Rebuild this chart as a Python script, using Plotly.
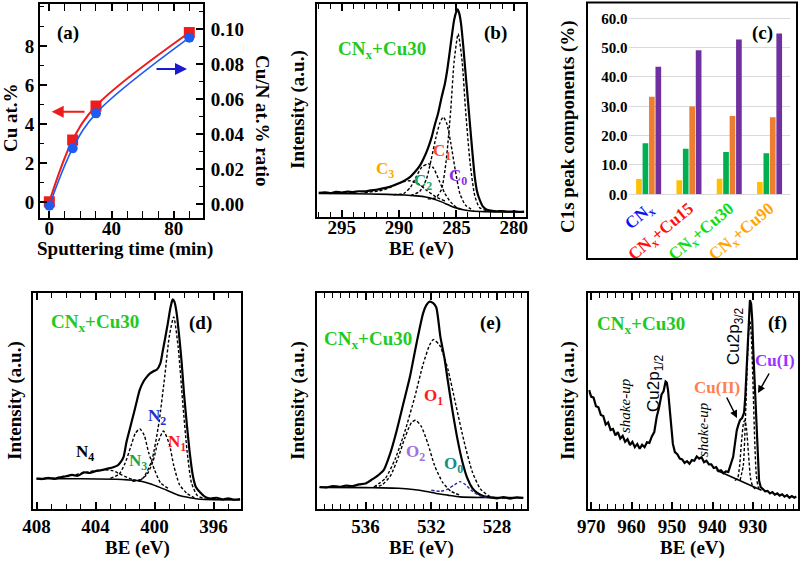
import plotly.graph_objects as go

W, H = 800, 561
def px(x): return x / W
def py(y): return 1 - y / H

# ---------------- (a) Cu content vs sputtering time ----------------
sput_time = [0, 15, 30, 90]
cu_at = [0.03, 3.19, 4.93, 8.69]
cu_n_ratio = [-0.001, 0.0319, 0.0519, 0.0952]
cu_n_err = [0.002, 0.002, 0.002, 0.002]

# ---------------- (c) C1s components ----------------
samples = ["CNx", "CNx+Cu15", "CNx+Cu30", "CNx+Cu90"]
sample_colors = ["#1010ee", "#ff1010", "#10dd10", "#ffa500"]
c3_pct = [5.2, 4.8, 5.3, 4.2]
c2_pct = [17.4, 15.5, 14.4, 14.0]
c1_pct = [33.3, 29.9, 26.7, 26.3]
c0_pct = [43.5, 49.1, 52.8, 54.8]

# ---------------- (b) C1s spectrum ----------------
b_be = [297.0, 296.5, 296.0, 295.5, 295.0, 294.5, 294.0, 293.5, 293.0, 292.5, 292.0, 291.5, 291.0, 290.5,
        290.0, 289.5, 289.0, 288.6, 288.2, 287.9, 287.5, 287.15, 286.9, 286.6, 286.3, 286.0, 285.8, 285.6,
        285.4, 285.2, 285.0, 284.9, 284.75, 284.6, 284.4, 284.25, 284.0, 283.8, 283.6, 283.4, 283.2, 282.95,
        282.7, 282.35, 282.0, 281.5, 281.0, 280.5, 280.0, 279.5, 279.1]
b_int = [0.113, 0.116, 0.112, 0.118, 0.115, 0.119, 0.117, 0.121, 0.12, 0.125, 0.128, 0.133, 0.139, 0.148,
         0.158, 0.172, 0.19, 0.212, 0.24, 0.27, 0.32, 0.376, 0.43, 0.486, 0.56, 0.627, 0.69, 0.768,
         0.85, 0.925, 0.965, 0.975, 0.955, 0.909, 0.80, 0.705, 0.55, 0.423, 0.30, 0.188, 0.12, 0.078,
         0.05, 0.034, 0.03, 0.027, 0.028, 0.025, 0.026, 0.024, 0.025]
b_bg_be = [297.0, 294.0, 291.0, 289.5, 288.5, 287.7, 287.0, 286.3, 285.7, 285.1, 284.4, 283.7, 282.5, 279.1]
b_bg = [0.11, 0.109, 0.106, 0.103, 0.099, 0.094, 0.085, 0.071, 0.057, 0.044, 0.034, 0.028, 0.025, 0.024]
b_c0_be = [287.5, 286.8, 286.3, 285.9, 285.5, 285.2, 284.85, 284.5, 284.2, 283.8, 283.4, 283.0, 282.4, 281.5]
b_c0 = [0.085, 0.09, 0.13, 0.26, 0.50, 0.73, 0.86, 0.73, 0.50, 0.25, 0.10, 0.045, 0.03, 0.026]
b_c1_be = [289.0, 288.2, 287.6, 287.2, 286.8, 286.45, 286.15, 285.85, 285.5, 285.1, 284.7, 284.2, 283.5]
b_c1 = [0.10, 0.12, 0.18, 0.27, 0.37, 0.44, 0.47, 0.44, 0.35, 0.22, 0.11, 0.055, 0.03]
b_c2_be = [290.5, 289.6, 289.0, 288.5, 288.0, 287.45, 287.0, 286.5, 286.0, 285.5, 285.0]
b_c2 = [0.105, 0.11, 0.14, 0.19, 0.235, 0.25, 0.23, 0.17, 0.11, 0.07, 0.045]
b_c3_be = [293.0, 291.5, 290.5, 289.7, 289.0, 288.3, 287.6, 286.8, 286.0]
b_c3 = [0.115, 0.125, 0.145, 0.165, 0.17, 0.155, 0.125, 0.095, 0.075]

# ---------------- (d) N1s spectrum ----------------
d_be = [408.0, 407.6, 407.2, 406.8, 406.4, 406.0, 405.6, 405.2, 404.8, 404.4, 404.0, 403.6, 403.2, 402.8,
        402.5, 402.3, 402.1, 401.9, 401.6, 401.4, 401.2, 401.0, 400.75, 400.5, 400.3, 400.1, 399.85, 399.6,
        399.45, 399.3, 399.1, 398.95, 398.85, 398.77, 398.65, 398.5, 398.3, 398.16, 398.0, 397.8, 397.6,
        397.4, 397.2, 396.9, 396.6, 396.2, 395.8, 395.4, 395.0, 394.6, 394.2]
d_int = [0.139, 0.137, 0.143, 0.138, 0.145, 0.15, 0.156, 0.152, 0.168, 0.165, 0.174, 0.178, 0.185, 0.192,
         0.20, 0.215, 0.24, 0.31, 0.39, 0.444, 0.50, 0.552, 0.59, 0.614, 0.628, 0.637, 0.645, 0.676,
         0.73, 0.784, 0.86, 0.923, 0.955, 0.972, 0.96, 0.907, 0.78, 0.676, 0.53, 0.383, 0.25,
         0.151, 0.10, 0.074, 0.055, 0.046, 0.05, 0.042, 0.047, 0.041, 0.044]
d_bg_be = [408.0, 405.0, 402.6, 401.8, 401.0, 400.3, 399.6, 398.9, 398.3, 397.6, 396.9, 396.0, 394.2]
d_bg = [0.139, 0.138, 0.136, 0.133, 0.128, 0.115, 0.097, 0.077, 0.06, 0.05, 0.043, 0.041, 0.04]
d_n1_be = [401.5, 400.8, 400.2, 399.7, 399.3, 399.0, 398.7, 398.4, 398.1, 397.8, 397.5, 397.1, 396.6, 396.0]
d_n1 = [0.125, 0.14, 0.22, 0.40, 0.62, 0.80, 0.89, 0.75, 0.50, 0.27, 0.12, 0.06, 0.045, 0.042]
d_n2_be = [401.0, 400.5, 400.1, 399.8, 399.4, 399.0, 398.7, 398.3, 397.8, 397.3]
d_n2 = [0.13, 0.16, 0.22, 0.30, 0.36, 0.30, 0.20, 0.11, 0.07, 0.05]
d_n3_be = [403.0, 402.4, 402.0, 401.6, 401.3, 401.0, 400.7, 400.4, 400.0, 399.6, 399.0]
d_n3 = [0.14, 0.16, 0.21, 0.29, 0.35, 0.37, 0.34, 0.26, 0.18, 0.12, 0.09]
d_n4_be = [407.0, 405.5, 404.5, 403.5, 402.8, 402.2, 401.5, 400.8]
d_n4 = [0.14, 0.155, 0.17, 0.18, 0.175, 0.155, 0.135, 0.125]

# ---------------- (e) O1s spectrum ----------------
e_be = [538.8, 538.4, 538.0, 537.6, 537.2, 536.8, 536.4, 536.0, 535.6, 535.3, 534.9, 534.5, 534.1, 533.7,
        533.3, 532.9, 532.5, 532.3, 532.1, 531.9, 531.7, 531.45, 531.2, 531.0, 530.7, 530.4, 530.1, 529.8,
        529.5, 529.2, 528.8, 528.4, 528.0, 527.6, 527.2, 526.8, 526.4]
e_int = [0.10, 0.098, 0.104, 0.101, 0.106, 0.104, 0.112, 0.116, 0.135, 0.15, 0.178, 0.256, 0.364, 0.488,
         0.612, 0.767, 0.907, 0.945, 0.961, 0.955, 0.935, 0.80, 0.70, 0.597, 0.45, 0.32, 0.215, 0.14,
         0.095, 0.072, 0.057, 0.052, 0.047, 0.053, 0.046, 0.052, 0.049]
e_bg_be = [538.8, 536.0, 535.0, 534.0, 533.1, 532.3, 531.7, 531.0, 530.25, 529.0, 526.4]
e_bg = [0.098, 0.097, 0.096, 0.094, 0.088, 0.079, 0.07, 0.062, 0.054, 0.051, 0.05]
e_o1_be = [535.5, 534.8, 534.2, 533.6, 533.0, 532.5, 532.1, 531.88, 531.5, 531.0, 530.5, 530.0, 529.5, 529.0, 528.4, 527.5]
e_o1 = [0.10, 0.14, 0.23, 0.36, 0.52, 0.67, 0.76, 0.785, 0.76, 0.65, 0.48, 0.31, 0.17, 0.09, 0.055, 0.048]
e_o2_be = [535.5, 535.0, 534.5, 534.0, 533.6, 533.2, 532.95, 532.6, 532.2, 531.8, 531.3, 530.8, 530.2]
e_o2 = [0.098, 0.11, 0.15, 0.24, 0.33, 0.40, 0.41, 0.38, 0.30, 0.20, 0.12, 0.08, 0.06]
e_o0_be = [532.0, 531.4, 531.0, 530.6, 530.25, 529.9, 529.5, 529.0, 528.5]
e_o0 = [0.085, 0.08, 0.09, 0.11, 0.125, 0.11, 0.08, 0.058, 0.05]

# ---------------- (f) Cu2p spectrum ----------------
f_be = [970.5, 970.0, 969.4, 968.8, 968.2, 967.6, 967.0, 966.4, 965.8, 965.2, 964.6, 964.0, 963.4, 962.8,
        962.2, 961.6, 961.0, 960.4, 959.8, 959.2, 958.6, 958.0, 957.4, 956.8, 956.2, 955.6, 955.0, 954.4,
        953.8, 953.2, 952.6, 952.1, 951.6, 951.3, 951.0, 950.6, 950.2, 949.8, 949.3, 948.7, 948.1, 947.5,
        946.9, 946.3, 945.7, 945.1, 944.5, 943.9, 943.3, 942.7, 942.1, 941.5, 940.9, 940.3, 939.7, 939.1,
        938.5, 937.9, 937.3, 936.7, 936.1, 935.5, 934.9, 934.4, 934.0, 933.6, 933.2, 932.7, 932.2, 931.9,
        931.6, 931.3, 931.0, 930.75, 930.45, 930.2, 929.9, 929.5, 929.2, 928.85, 928.5, 928.1, 927.6, 927.0,
        926.4, 925.8, 925.2, 924.6, 924.0, 923.4, 922.8, 922.2, 921.6, 921.0, 920.4, 919.8, 919.3]
f_int = [0.55, 0.52, 0.515, 0.475, 0.47, 0.435, 0.43, 0.39, 0.40, 0.365, 0.37, 0.34, 0.355, 0.325,
         0.338, 0.31, 0.322, 0.295, 0.31, 0.285, 0.30, 0.278, 0.296, 0.285, 0.308, 0.305, 0.335, 0.355,
         0.425, 0.47, 0.53, 0.545, 0.59, 0.585, 0.55, 0.47, 0.37, 0.30, 0.262, 0.252, 0.232, 0.228,
         0.212, 0.22, 0.208, 0.225, 0.222, 0.242, 0.232, 0.238, 0.215, 0.222, 0.205, 0.205, 0.188, 0.192,
         0.174, 0.178, 0.164, 0.172, 0.17, 0.2, 0.24, 0.31, 0.364, 0.39, 0.411, 0.42, 0.445, 0.52,
         0.64, 0.78, 0.92, 0.969, 0.95, 0.88, 0.72, 0.55, 0.36, 0.21, 0.13, 0.10, 0.09, 0.08,
         0.082, 0.07, 0.076, 0.064, 0.07, 0.06, 0.066, 0.055, 0.062, 0.05, 0.058, 0.05, 0.056]
f_bg_be = [939.0, 927.9]
f_bg = [0.178, 0.085]
f_cu1_be = [933.2, 932.4, 931.9, 931.4, 931.0, 930.75, 930.4, 930.0, 929.6, 929.2, 928.7, 928.2]
f_cu1 = [0.13, 0.20, 0.40, 0.68, 0.84, 0.87, 0.80, 0.58, 0.33, 0.16, 0.10, 0.088]
f_cu2_be = [934.5, 933.8, 933.3, 932.8, 932.3, 932.0, 931.6, 931.1, 930.6, 930.0, 929.3]
f_cu2 = [0.13, 0.14, 0.20, 0.32, 0.40, 0.41, 0.37, 0.25, 0.14, 0.10, 0.09]

SERIF = "Liberation Serif"
SANS = "Liberation Sans"
DASH = "3px,2px"

fig = go.Figure()

def line(x, y, xa, ya, width=2, dash=None, color="black", shape="spline"):
    fig.add_trace(go.Scatter(x=x, y=y, xaxis=xa, yaxis=ya, mode="lines",
                             line=dict(color=color, width=width, dash=dash, shape=shape, smoothing=0.6),
                             hoverinfo="skip"))

# (a)
fig.add_trace(go.Scatter(x=sput_time, y=cu_at, xaxis="x", yaxis="y", mode="lines+markers",
                         line=dict(color="#ee1c1c", width=2, shape="spline", smoothing=1.0),
                         marker=dict(symbol="square", size=11, color="#ee1c1c")))
fig.add_trace(go.Scatter(x=sput_time, y=cu_n_ratio, xaxis="x", yaxis="y2", mode="lines+markers",
                         line=dict(color="#1e5cf0", width=1.6, shape="spline", smoothing=1.0),
                         marker=dict(symbol="circle", size=10, color="#1e5cf0"),
                         error_y=dict(type="data", array=cu_n_err, color="#1e5cf0", thickness=1.5, width=3)))

# (b)
line(b_be, b_int, "x2", "y3", width=2.2)
line(b_bg_be, b_bg, "x2", "y3", width=1.6)
for xs, ys in [(b_c0_be, b_c0), (b_c1_be, b_c1), (b_c2_be, b_c2), (b_c3_be, b_c3)]:
    line(xs, ys, "x2", "y3", width=1.4, dash=DASH)

# (c)
for vals, col in [(c3_pct, "#FFC000"), (c2_pct, "#00B050"), (c1_pct, "#ED7D31"), (c0_pct, "#7030A0")]:
    fig.add_trace(go.Bar(x=samples, y=vals, xaxis="x3", yaxis="y4", marker=dict(color=col, line=dict(width=0))))

# (d)
line(d_be, d_int, "x4", "y5", width=2.2)
line(d_bg_be, d_bg, "x4", "y5", width=1.6)
for xs, ys in [(d_n1_be, d_n1), (d_n2_be, d_n2), (d_n3_be, d_n3), (d_n4_be, d_n4)]:
    line(xs, ys, "x4", "y5", width=1.4, dash=DASH)

# (e)
line(e_be, e_int, "x5", "y6", width=2.2)
line(e_bg_be, e_bg, "x5", "y6", width=1.6)
line(e_o1_be, e_o1, "x5", "y6", width=1.4, dash=DASH)
line(e_o2_be, e_o2, "x5", "y6", width=1.4, dash=DASH)
line(e_o0_be, e_o0, "x5", "y6", width=1.4, dash=DASH, color="#2b2b8f")

# (f)
line(f_be, f_int, "x6", "y7", width=2.2, shape="linear")
line(f_bg_be, f_bg, "x6", "y7", width=1.6, shape="linear")
line(f_cu1_be, f_cu1, "x6", "y7", width=1.4, dash=DASH)
line(f_cu2_be, f_cu2, "x6", "y7", width=1.4, dash=DASH)

tickfont = dict(family=SERIF, size=19, color="black")

def bold_ticks(vals, fmt="{:g}"):
    return dict(tickmode="array", tickvals=vals, ticktext=["<b>" + fmt.format(v) + "</b>" for v in vals])

def spec_x(dom, rng, vals, minor_dtick, tick0, anchor, standoff):
    d = dict(domain=[px(dom[0]), px(dom[1])], range=rng, anchor=anchor, automargin=False,
             ticks="inside", ticklen=7, tickwidth=1.5, tickcolor="black",
             minor=dict(ticks="inside", ticklen=5, tickwidth=1.3, dtick=minor_dtick, tick0=tick0, tickcolor="black"),
             showline=True, linewidth=2, linecolor="black", mirror="allticks",
             showgrid=False, zeroline=False, tickfont=tickfont, ticklabelstandoff=standoff)
    d.update(bold_ticks(vals))
    return d

def spec_y(dom, anchor):
    return dict(domain=[py(dom[0]), py(dom[1])], range=[0, 1], anchor=anchor, automargin=False,
                showticklabels=False, ticks="", showline=True, linewidth=2, linecolor="black",
                mirror=True, showgrid=False, zeroline=False)

xa = dict(domain=[px(40), px(203)], range=[-6, 98.8], anchor="y", automargin=False,
          ticks="inside", ticklen=7, tickwidth=1.5, tickcolor="black",
          minor=dict(ticks="inside", ticklen=4, dtick=10, tick0=0, tickwidth=1.2, tickcolor="black"),
          showline=True, linewidth=2, linecolor="black", mirror="allticks",
          showgrid=False, zeroline=False, tickfont=tickfont, ticklabelstandoff=-8)
xa.update(bold_ticks([0, 40, 80]))
ya = dict(domain=[py(218), py(4)], range=[-0.8, 10.15], anchor="x", automargin=False,
          ticks="inside", ticklen=7, tickwidth=1.5, tickcolor="black",
          minor=dict(ticks="inside", ticklen=4, dtick=1, tick0=0, tickwidth=1.2, tickcolor="black"),
          showline=True, linewidth=2, linecolor="black", mirror=True,
          showgrid=False, zeroline=False, tickfont=tickfont)
ya.update(bold_ticks([0, 2, 4, 6, 8]))
ya2 = dict(range=[-0.008, 0.1145], overlaying="y", side="right", anchor="x", automargin=False,
           ticks="inside", ticklen=7, tickwidth=1.5, tickcolor="black",
           minor=dict(ticks="inside", ticklen=4, dtick=0.01, tick0=0, tickwidth=1.2, tickcolor="black"),
           showline=True, linewidth=2, linecolor="black",
           showgrid=False, zeroline=False, tickfont=tickfont, ticklabelstandoff=2)
ya2.update(bold_ticks([0, 0.02, 0.04, 0.06, 0.08, 0.10], "{:.2f}"))
yc = dict(domain=[py(194.3), py(12.45)], range=[0, 62], anchor="x3", automargin=False,
          showline=False, ticks="", showgrid=True, gridcolor="#d9d9d9", gridwidth=1,
          zeroline=True, zerolinecolor="#d9d9d9", zerolinewidth=1,
          tickfont=dict(family=SERIF, size=15, color="black"))
yc.update(bold_ticks([0, 10, 20, 30, 40, 50, 60], "{:.1f}"))

layout = dict(
    template="none",
    width=W, height=H, margin=dict(l=0, r=0, t=0, b=0, pad=0, autoexpand=False),
    paper_bgcolor="white", plot_bgcolor="white", showlegend=False,
    font=dict(family=SERIF, color="black"),
    barmode="group", bargap=0.36, bargroupgap=0.12,
    xaxis=xa, yaxis=ya, yaxis2=ya2,
    xaxis2=spec_x((316.7, 525.7), [297.18, 278.96], [280, 285, 290, 295], 1, 280, "y3", -8),
    yaxis3=spec_y((217, 4), "x2"),
    xaxis3=dict(domain=[px(628.5), px(789.7)], anchor="y4", automargin=False, showline=False, ticks="", showgrid=False,
                tickangle=-40, tickmode="array", tickvals=samples,
                ticktext=["<b><span style='color:%s'>CN<sub>x</sub>%s</span></b>" % (c, s[3:]) for s, c in zip(samples, sample_colors)],
                tickfont=dict(family=SERIF, size=17)),
    yaxis4=yc,
    xaxis4=spec_x((33.3, 240.7), [408.22, 394.16], [396, 400, 404, 408], 1, 396, "y5", 0),
    yaxis5=spec_y((508.5, 293.3), "x4"),
    xaxis5=spec_x((317.3, 526.7), [538.94, 526.19], [528, 532, 536], 0.5, 528, "y6", 0),
    yaxis6=spec_y((508.5, 293.3), "x5"),
    xaxis6=spec_x((588.3, 797.5), [970.7, 919.0], [930, 940, 950, 960, 970], 2, 930, "y7", 0),
    yaxis7=spec_y((508.5, 293.3), "x6"),
)
fig.update_layout(**layout)

ann = []
def txt(x, y, text, size=19, color="black", angle=0, bold=True, family=SERIF, italic=False):
    t = text
    if italic:
        t = "<i>" + t + "</i>"
    if bold:
        t = "<b>" + t + "</b>"
    ann.append(dict(x=px(x), y=py(y), xref="paper", yref="paper", text=t, showarrow=False,
                    textangle=angle, xanchor="center", yanchor="middle",
                    font=dict(family=family, size=size, color=color)))

def arrow(x0, y0, x1, y1, color="black", width=1.5, size=1.0):
    ann.append(dict(x=px(x1), y=py(y1), ax=x0 - x1, ay=y0 - y1, xref="paper", yref="paper",
                    text="", showarrow=True, arrowhead=2,
                    arrowsize=size, arrowwidth=width, arrowcolor=color))

GREEN = "#22c922"
# axis titles
txt(10, 118, "Cu at.%", angle=-90)
txt(262, 120, "Cu/N at.% ratio", angle=90)
txt(125, 249, "Sputtering time (min)")
txt(298, 110, "Intensity (a.u.)", angle=-90)
txt(421, 249, "BE (eV)")
txt(568, 127, "C1s peak components (%)", angle=-90)
txt(15, 401, "Intensity (a.u.)", angle=-90)
txt(137, 548, "BE (eV)")
txt(298, 401, "Intensity (a.u.)", angle=-90)
txt(421, 548, "BE (eV)")
txt(568, 401, "Intensity (a.u.)", angle=-90)
txt(692, 548, "BE (eV)")
# panel letters
txt(68, 33, "(a)")
txt(495, 33, "(b)")
txt(762, 33, "(c)")
txt(200, 323, "(d)")
txt(490, 323, "(e)")
txt(777, 323, "(f)")
# sample labels
txt(382, 50, "CN<sub>x</sub>+Cu30", color=GREEN)
txt(95, 323, "CN<sub>x</sub>+Cu30", color=GREEN)
txt(368, 340, "CN<sub>x</sub>+Cu30", color=GREEN)
txt(641, 325, "CN<sub>x</sub>+Cu30", color=GREEN)
# (b) component labels
txt(385, 170, "C<sub>3</sub>", size=17, color="#ffa500")
txt(423, 182, "C<sub>2</sub>", size=17, color="#1aa35a")
txt(442, 152, "C<sub>1</sub>", size=17, color="#ff4a2a")
txt(458, 177, "C<sub>0</sub>", size=17, color="#8a2be2")
# (d)
txt(85, 453, "N<sub>4</sub>", size=17)
txt(138, 462, "N<sub>3</sub>", size=17, color="#1aa35a")
txt(157, 417, "N<sub>2</sub>", size=17, color="#1f2fd0")
txt(177, 443, "N<sub>1</sub>", size=17, color="#ff1a1a")
# (e)
txt(433, 397, "O<sub>1</sub>", size=17, color="#ff1a1a")
txt(415, 453, "O<sub>2</sub>", size=17, color="#a070e0")
txt(453, 465, "O<sub>0</sub>", size=17, color="#178a8a")
# (f)
txt(655, 383, "Cu2p<sub>1/2</sub>", size=17, angle=-90, bold=False, family=SANS)
txt(735, 336, "Cu2p<sub>3/2</sub>", size=17, angle=-90, bold=False, family=SANS)
txt(625, 406, "shake-up", size=15, angle=-90, bold=False, italic=True)
txt(703, 430, "shake-up", size=15, angle=-90, bold=False, italic=True)
txt(717, 387, "Cu(II)", size=17, color="#ff7f50")
txt(775, 360, "Cu(I)", size=17, color="#9933ff")
arrow(726, 396, 737, 418)
arrow(770, 372, 758, 393)
# (a) arrows
arrow(86, 111.7, 51.7, 111.7, color="#ee1c1c", width=2, size=1.2)
arrow(155, 69, 187, 69, color="#1a1ad0", width=2, size=1.2)

fig.update_layout(annotations=ann)
fig.add_shape(type="rect", xref="paper", yref="paper", x0=px(587), x1=px(797), y0=py(259), y1=py(2.5),
              line=dict(color="black", width=2))

fig.write_html("out.html", config={"displayModeBar": False},
               post_script="document.body.style.margin='0px';")
